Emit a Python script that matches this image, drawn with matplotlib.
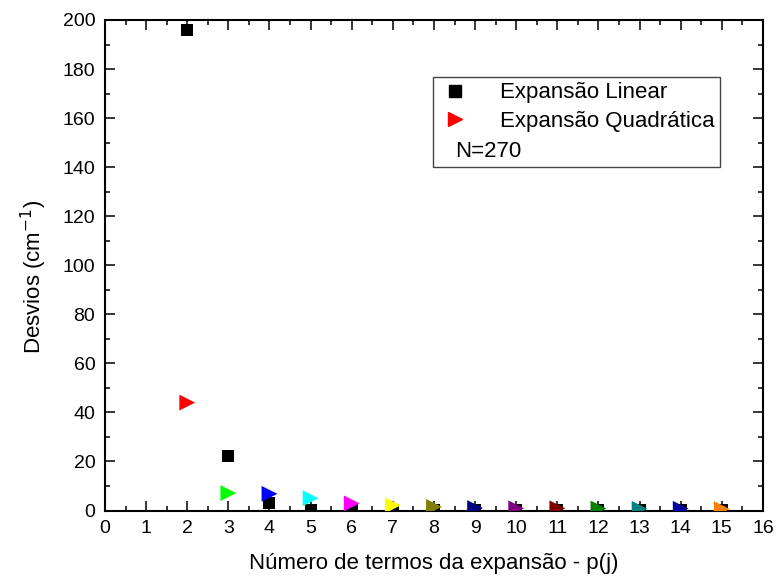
import matplotlib
matplotlib.use("Agg")
from matplotlib import pyplot as plt
from matplotlib.lines import Line2D

plt.rcParams['font.family'] = ['Liberation Sans', 'DejaVu Sans']

# número de termos p(j)
termos = [2, 3, 4, 5, 6, 7, 8, 9, 10, 11, 12, 13, 14, 15]
# desvios da expansão linear
desvio_linear = [196, 22.2, 3.2, 0.4, 0.3, 0.3, 0.3, 0.3, 0.3, 0.3, 0.3, 0.3, 0.3, 0.3]
# desvios da expansão quadrática
desvio_quad = [44, 7.1, 6.8, 5.0, 2.9, 2.1, 1.5, 1.0, 0.9, 0.9, 0.8, 0.7, 0.7, 0.6]
# cores estilo Origin para cada ponto quadrático
cores = ["#ff0000", "#00ff00", "#0000ff", "#00ffff", "#ff00ff", "#ffff00", "#808000",
         "#000080", "#800080", "#800000", "#008000", "#008080", "#0000a0", "#ff8000"]

fig = plt.figure(figsize=(7.76, 5.81), dpi=100)
ax = fig.add_axes([0.1353, 0.1213, 0.8479, 0.8443])

ax.scatter(termos, desvio_linear, marker="s", s=64, color="black", linewidths=0, zorder=3)
ax.scatter(termos, desvio_quad, marker=">", s=130, c=cores, linewidths=0, zorder=4)

ax.set_xlim(0, 16)
ax.set_ylim(0, 200)
ax.set_xticks(range(0, 17))
ax.set_yticks(range(0, 201, 20))
ax.set_xticks([x + 0.5 for x in range(16)], minor=True)
ax.set_yticks(range(10, 200, 20), minor=True)
ax.tick_params(which="both", direction="in", top=True, right=True, width=1.1, labelsize=14)
ax.tick_params(which="major", length=7, pad=7)
ax.tick_params(which="minor", length=3.8)
for s in ax.spines.values():
    s.set_linewidth(1.5)

ax.set_xlabel("Número de termos da expansão - p(j)", fontsize=16, labelpad=11)
ax.set_ylabel("Desvios (cm$^{-1}$)", fontsize=16, labelpad=10, y=0.476)

# legenda
handles = [Line2D([], [], marker="s", color="black", ls="none", markersize=8),
           Line2D([], [], marker=">", color="red", ls="none", markersize=10),
           Line2D([], [], ls="none")]
leg = ax.legend(handles, ["Expansão Linear", "Expansão Quadrática", " "],
                loc="upper left", bbox_to_anchor=(0.4985, 0.884), borderaxespad=0,
                fontsize=16, fancybox=False, framealpha=1, edgecolor="#444444",
                handletextpad=1.25, labelspacing=0.35, borderpad=0.25, handlelength=1.5)
leg.get_frame().set_linewidth(1.0)
ax.text(0.532, 0.731, "N=270", transform=ax.transAxes, fontsize=16,
        va="center", ha="left", zorder=10)

plt.savefig("out.png", dpi=100)
